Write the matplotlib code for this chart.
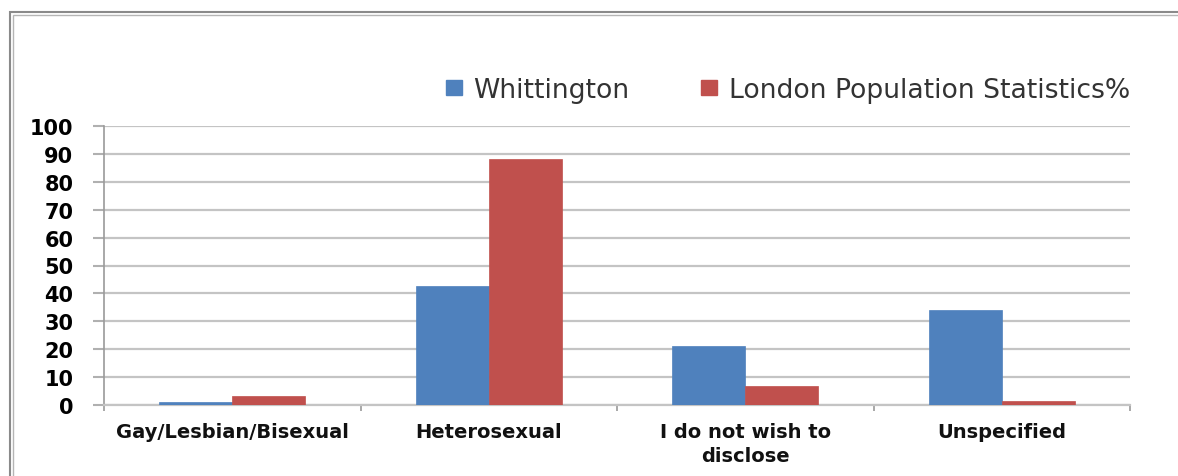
import matplotlib
matplotlib.use("Agg")
import matplotlib.pyplot as plt
from matplotlib.patches import Rectangle, Patch
import numpy as np

categories = ["Gay/Lesbian/Bisexual", "Heterosexual", "I do not wish to\ndisclose", "Unspecified"]
series_names = ["Whittington", "London Population Statistics%"]
whittington = [1.1, 42.6, 21.2, 34.2]
london = [3.2, 88.2, 6.7, 1.5]
yticks = list(range(0, 101, 10))

W, H = 1178, 477
fig = plt.figure(figsize=(W / 100, H / 100), dpi=100)
fig.patch.set_facecolor("white")

ax = fig.add_axes([104 / W, 1 - 406 / H, (1130 - 104) / W, (406 - 127) / H])
x = np.arange(len(categories))
bw = 0.285
blue = "#4F81BD"
red = "#C0504D"
ax.bar(x - bw / 2, whittington, width=bw, color=blue, edgecolor=blue, linewidth=0.5, zorder=3)
ax.bar(x + bw / 2, london, width=bw, color=red, edgecolor=red, linewidth=0.5, zorder=3)

ax.set_xlim(-0.5, len(categories) - 0.5)
ax.set_ylim(0, 100)
ax.set_yticks(yticks)
ax.set_yticklabels([str(t) for t in yticks], fontsize=15, fontweight="bold", color="black")
ax.set_xticks(x)
ax.set_xticklabels(categories, fontsize=14, fontweight="bold", color="#111111", linespacing=1.35)
ax.tick_params(axis="x", which="major", length=0, pad=12)
ax.set_xticks(np.arange(len(categories) + 1) - 0.5, minor=True)
ax.tick_params(axis="x", which="minor", length=4, color="#9a9a9a", width=1.2, direction="out")
ax.tick_params(axis="y", length=8, color="#b0b0b0", width=1.5, direction="out", pad=14)

ax.grid(axis="y", color="#c4c4c4", linewidth=1.6, zorder=0)
ax.set_axisbelow(True)
for s in ["top", "right"]:
    ax.spines[s].set_visible(False)
ax.spines["left"].set_color("#9a9a9a")
ax.spines["left"].set_linewidth(1.2)
ax.spines["bottom"].set_color("#c4c4c4")
ax.spines["bottom"].set_linewidth(1.6)

handles = [Patch(facecolor=blue, edgecolor=blue), Patch(facecolor=red, edgecolor=red)]
leg = fig.legend(handles, series_names, loc="center left",
                 bbox_to_anchor=(446 / W, 1 - 91 / H), ncol=2, frameon=False,
                 fontsize=19.2, handlelength=0.6, handleheight=0.45, handletextpad=0.42,
                 columnspacing=2.7, borderpad=0, borderaxespad=0)
for t in leg.get_texts():
    t.set_color("#333333")

# double border frame
fig.add_artist(Rectangle((9.5 / W, -0.1), 2.0, 1 - 12.5 / H + 0.1, transform=fig.transFigure,
                         fill=False, edgecolor="#8a8a8a", linewidth=1.5))
fig.add_artist(Rectangle((12.5 / W, -0.1), 2.0, 1 - 15.5 / H + 0.1, transform=fig.transFigure,
                         fill=False, edgecolor="#b5b5b5", linewidth=1.0))

fig.savefig("out.png", dpi=100, facecolor="white")
